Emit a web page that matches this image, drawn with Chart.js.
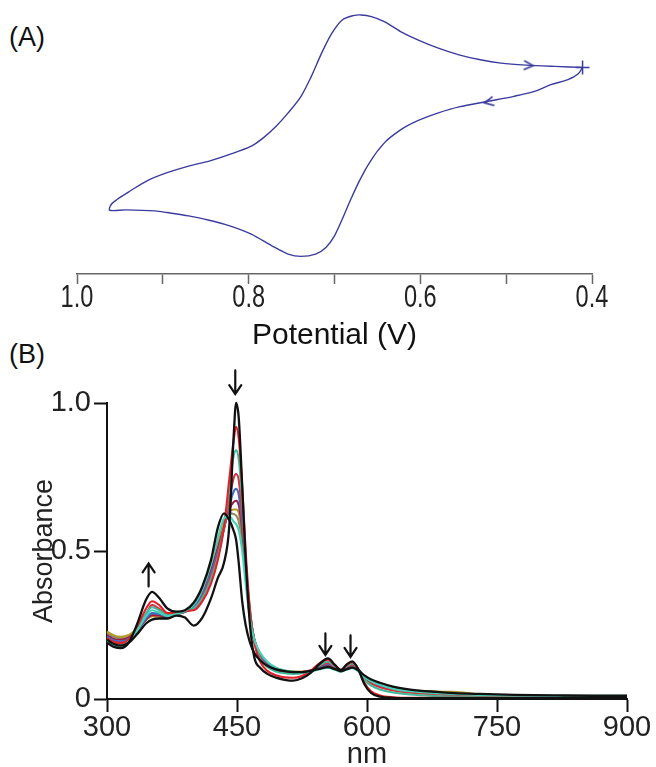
<!DOCTYPE html>
<html lang="en">
<head>
  <meta charset="UTF-8">
  <title>Cyclic voltammogram and spectral titration</title>
  <style>
    body {
      margin: 0;
      background: #fff;
      font-family: "Liberation Sans", Arial, sans-serif;
    }
    .panel-label {
      position: absolute;
      left: 9px;
      font-size: 27px;
      color: #111;
    }
    .chart-box {
      position: absolute;
      left: 0;
      width: 656px;
    }
  </style>
</head>
<body>
  <div class="panel-label" style="top:22px">(A)</div>
  <div class="panel-label" style="top:339px">(B)</div>

  <div class="chart-box" style="top:0; height:352px">
    <canvas id="cvChart" width="656" height="352"></canvas>
  </div>
  <div class="chart-box" style="top:360px; height:407px">
    <canvas id="uvChart" width="656" height="407"></canvas>
  </div>

  <script src="https://cdn.jsdelivr.net/npm/chart.js"></script>
  <script>
    // ---- (A) cyclic voltammogram: potential (V) / current (arb.) ----
    // starts at 0.41 V, cathodic branch out to 0.96 V, anodic branch back
    const cvPotential = [
      0.411, 0.416, 0.428, 0.448, 0.467, 0.491, 0.521, 0.555, 0.579, 0.603,
      0.616, 0.628, 0.640, 0.650, 0.658, 0.665, 0.672, 0.681, 0.691, 0.700,
      0.710, 0.722, 0.739, 0.754, 0.773, 0.797, 0.822, 0.846, 0.870, 0.895,
      0.909, 0.943, 0.962,
      0.960, 0.953, 0.938, 0.919, 0.895, 0.870, 0.846, 0.822, 0.797, 0.783,
      0.768, 0.754, 0.739, 0.727, 0.715, 0.703, 0.691, 0.678, 0.669, 0.657,
      0.642, 0.623, 0.603, 0.579, 0.555, 0.530, 0.506, 0.477, 0.443, 0.411
    ];
    const cvCurrent = [
      1.97, 1.78, 1.60, 1.45, 1.25, 1.10, 0.95, 0.78, 0.60, 0.37,
      0.20, 0.00, -0.25, -0.55, -0.85, -1.15, -1.50, -2.00, -2.60, -3.10,
      -3.45, -3.65, -3.72, -3.65, -3.40, -3.05, -2.80, -2.63, -2.50, -2.40,
      -2.35, -2.32, -2.33,
      -2.15, -2.00, -1.75, -1.45, -1.20, -1.00, -0.85, -0.65, -0.40, -0.15,
      0.20, 0.60, 1.10, 1.70, 2.40, 3.00, 3.40, 3.53, 3.55, 3.50,
      3.35, 3.05, 2.80, 2.55, 2.35, 2.20, 2.10, 2.04, 2.00, 1.97
    ];
    // scan direction marks
    const scanArrowE = [0.474, 0.520];
    const scanArrowI = [2.03, 0.93];
    const scanArrowAngle = [3, 169];
    const cvPotentialTicks = [1.0, 0.8, 0.6, 0.4];

    // ---- (B) absorption spectra during the titration ----
    const wavelength = [
      300, 308, 316, 325, 335, 345, 352, 360, 370, 380,
      390, 400, 410, 420, 428, 435, 441, 446, 449, 452,
      456, 460, 465, 470, 477, 485, 495, 505, 515, 525,
      535, 545, 555, 563, 570, 577, 583, 590, 597, 605,
      615, 630, 650, 680, 700, 730, 770, 820, 860, 900
    ];
    const absInitial = [
      0.2, 0.186, 0.18, 0.19, 0.22, 0.255, 0.268, 0.272, 0.272, 0.282,
      0.275, 0.248, 0.275, 0.34, 0.41, 0.46, 0.58, 0.88, 1.0, 0.95,
      0.72, 0.47, 0.25, 0.14, 0.105, 0.085, 0.072, 0.065, 0.062, 0.07,
      0.088, 0.118, 0.137, 0.115, 0.098, 0.118, 0.127, 0.1, 0.05, 0.02,
      0.008, 0.004, 0.003, 0.003, 0.003, 0.003, 0.003, 0.003, 0.003, 0.003
    ];
    const absRed1 = [
      0.205, 0.192, 0.188, 0.2, 0.245, 0.305, 0.33, 0.318, 0.29, 0.29,
      0.298, 0.3, 0.33, 0.39, 0.47, 0.58, 0.74, 0.87, 0.92, 0.88,
      0.72, 0.5, 0.3, 0.19, 0.125, 0.095, 0.08, 0.073, 0.072, 0.078,
      0.095, 0.12, 0.133, 0.114, 0.097, 0.116, 0.124, 0.1, 0.055, 0.025,
      0.012, 0.006, 0.004, 0.004, 0.004, 0.004, 0.004, 0.004, 0.004, 0.004
    ];
    const absTeal = [
      0.2, 0.188, 0.184, 0.196, 0.235, 0.29, 0.31, 0.3, 0.283, 0.288,
      0.297, 0.305, 0.34, 0.405, 0.48, 0.58, 0.71, 0.82, 0.84, 0.81,
      0.67, 0.47, 0.3, 0.195, 0.135, 0.108, 0.093, 0.087, 0.085, 0.087,
      0.095, 0.114, 0.126, 0.11, 0.096, 0.112, 0.12, 0.1, 0.065, 0.045,
      0.032, 0.022, 0.015, 0.01, 0.008, 0.006, 0.005, 0.005, 0.005, 0.005
    ];
    const absRed2 = [
      0.205, 0.193, 0.19, 0.2, 0.235, 0.285, 0.318, 0.305, 0.285, 0.29,
      0.296, 0.305, 0.345, 0.415, 0.49, 0.575, 0.67, 0.745, 0.76, 0.74,
      0.62, 0.45, 0.295, 0.2, 0.14, 0.113, 0.097, 0.09, 0.088, 0.089,
      0.095, 0.111, 0.122, 0.107, 0.095, 0.109, 0.116, 0.098, 0.07, 0.052,
      0.04, 0.029, 0.021, 0.015, 0.012, 0.009, 0.006, 0.005, 0.005, 0.005
    ];
    const absBlue = [
      0.21, 0.198, 0.195, 0.203, 0.232, 0.272, 0.29, 0.288, 0.279, 0.287,
      0.295, 0.31, 0.352, 0.425, 0.5, 0.575, 0.65, 0.7, 0.71, 0.69,
      0.59, 0.44, 0.29, 0.2, 0.145, 0.117, 0.1, 0.092, 0.09, 0.09,
      0.095, 0.108, 0.118, 0.105, 0.094, 0.107, 0.113, 0.097, 0.073, 0.056,
      0.043, 0.032, 0.024, 0.018, 0.015, 0.011, 0.008, 0.006, 0.006, 0.006
    ];
    const absMaroon = [
      0.215, 0.203, 0.2, 0.207, 0.232, 0.268, 0.283, 0.282, 0.276, 0.286,
      0.295, 0.312, 0.358, 0.435, 0.51, 0.58, 0.64, 0.665, 0.67, 0.655,
      0.57, 0.43, 0.285, 0.2, 0.148, 0.12, 0.102, 0.094, 0.091, 0.091,
      0.096, 0.106, 0.115, 0.103, 0.094, 0.105, 0.111, 0.096, 0.075, 0.058,
      0.046, 0.035, 0.027, 0.021, 0.018, 0.013, 0.01, 0.008, 0.007, 0.007
    ];
    const absOlive = [
      0.228, 0.215, 0.21, 0.216, 0.238, 0.268, 0.28, 0.278, 0.274, 0.285,
      0.296, 0.315, 0.362, 0.44, 0.52, 0.59, 0.63, 0.64, 0.64, 0.63,
      0.55, 0.42, 0.28, 0.2, 0.15, 0.122, 0.104, 0.095, 0.092, 0.092,
      0.096, 0.105, 0.113, 0.102, 0.093, 0.104, 0.109, 0.095, 0.076, 0.06,
      0.048, 0.036, 0.028, 0.025, 0.024, 0.016, 0.01, 0.008, 0.007, 0.007
    ];
    const absTan = [
      0.222, 0.21, 0.205, 0.212, 0.235, 0.27, 0.285, 0.282, 0.276, 0.285,
      0.296, 0.316, 0.365, 0.445, 0.53, 0.6, 0.628, 0.625, 0.62, 0.6,
      0.53, 0.41, 0.275, 0.2, 0.152, 0.124, 0.105, 0.096, 0.093, 0.092,
      0.096, 0.104, 0.111, 0.101, 0.093, 0.103, 0.108, 0.095, 0.077, 0.061,
      0.049, 0.037, 0.029, 0.024, 0.021, 0.015, 0.01, 0.008, 0.007, 0.007
    ];
    const absTurquoise = [
      0.195, 0.183, 0.18, 0.193, 0.232, 0.28, 0.3, 0.292, 0.28, 0.287,
      0.298, 0.318, 0.37, 0.455, 0.545, 0.61, 0.618, 0.6, 0.59, 0.57,
      0.5, 0.39, 0.27, 0.2, 0.155, 0.126, 0.106, 0.096, 0.092, 0.09,
      0.093, 0.1, 0.106, 0.099, 0.092, 0.1, 0.105, 0.093, 0.075, 0.06,
      0.048, 0.035, 0.026, 0.02, 0.017, 0.014, 0.012, 0.011, 0.011, 0.011
    ];
    const absFinal = [
      0.19, 0.176, 0.172, 0.19, 0.255, 0.335, 0.362, 0.342, 0.305, 0.295,
      0.3, 0.325, 0.38, 0.47, 0.58, 0.627, 0.605, 0.57, 0.537, 0.46,
      0.33, 0.25, 0.19, 0.155, 0.13, 0.112, 0.1, 0.094, 0.091, 0.091,
      0.095, 0.102, 0.108, 0.101, 0.094, 0.101, 0.106, 0.097, 0.08, 0.066,
      0.055, 0.042, 0.032, 0.024, 0.02, 0.017, 0.014, 0.012, 0.011, 0.011
    ];
    // arrows marking the direction of change (wavelength, tail, head)
    const changeNm = [348, 448, 552, 581];
    const changeFrom = [0.38, 1.11, 0.222, 0.215];
    const changeTo = [0.458, 1.03, 0.149, 0.142];

    const sansFont = '"Liberation Sans", Arial, sans-serif';

    // open chevron used as point style for the scan direction
    function chevron(color) {
      const c = document.createElement('canvas');
      c.width = 12; c.height = 12;
      const g = c.getContext('2d');
      g.strokeStyle = color;
      g.lineWidth = 1.6;
      g.beginPath();
      g.moveTo(1.5, 1.5); g.lineTo(10.5, 6); g.lineTo(1.5, 10.5);
      g.stroke();
      return c;
    }

    // potential labels are set in a condensed face (squeezed horizontally)
    const narrowTickLabels = {
      id: 'narrowTickLabels',
      afterDraw(chart) {
        const { ctx } = chart;
        const sx = chart.scales.x;
        ctx.save();
        ctx.fillStyle = '#222';
        ctx.font = '31px ' + sansFont;
        ctx.textAlign = 'center';
        ctx.textBaseline = 'middle';
        cvPotentialTicks.forEach((v) => {
          ctx.save();
          ctx.translate(sx.getPixelForValue(v), sx.top + 24);
          ctx.scale(0.76, 1);
          ctx.fillText(v.toFixed(1), 0, 0);
          ctx.restore();
        });
        ctx.restore();
      }
    };

    const cvColor = '#3b3b9e';
    const cvLoop = cvPotential.map((e, i) => ({ x: e, y: cvCurrent[i] }));
    const cvArrows = scanArrowE.map((e, i) => ({ x: e, y: scanArrowI[i] }));

    new Chart(document.getElementById('cvChart'), {
      type: 'scatter',
      data: {
        datasets: [
          {
            data: cvLoop,
            showLine: true,
            borderColor: cvColor,
            borderWidth: 1.4,
            tension: 0.3,
            pointRadius: 0
          },
          {
            data: cvArrows,
            pointStyle: chevron(cvColor),
            rotation: scanArrowAngle,
            pointRadius: 6
          },
          {
            data: [cvLoop[0]],
            pointStyle: 'cross',
            pointRadius: 7,
            borderColor: cvColor,
            borderWidth: 1.5
          }
        ]
      },
      options: {
        responsive: false,
        animation: false,
        layout: { autoPadding: false, padding: { left: 77, right: 64, top: 0, bottom: 0 } },
        plugins: { legend: { display: false }, tooltip: { enabled: false } },
        scales: {
          x: {
            type: 'linear',
            min: 0.4,
            max: 1.0,
            reverse: true,
            afterFit: (s) => { s.height = 78; },
            afterBuildTicks: (s) => {
              s.ticks = [1.0, 0.9, 0.8, 0.7, 0.6, 0.5, 0.4].map(v => ({ value: v }));
            },
            border: { color: '#666', width: 1.5 },
            grid: { drawOnChartArea: false, tickLength: 10, color: '#666', tickWidth: 1.5 },
            ticks: { display: false },
            title: {
              display: true,
              text: 'Potential (V)',
              color: '#111',
              padding: { top: 0, bottom: 1 },
              font: { family: sansFont, size: 30, lineHeight: 1 }
            }
          },
          y: { display: false, min: -4.25, max: 4.0 }
        }
      },
      plugins: [narrowTickLabels]
    });

    // draws the vertical change arrows of panel B
    const changeArrows = {
      id: 'changeArrows',
      afterDatasetsDraw(chart) {
        const { ctx, scales: { x, y } } = chart;
        ctx.save();
        ctx.strokeStyle = '#111';
        ctx.lineWidth = 2.2;
        ctx.lineCap = 'round';
        changeNm.forEach((nm, i) => {
          const px = x.getPixelForValue(nm);
          const y1 = y.getPixelForValue(changeFrom[i]);
          const y2 = y.getPixelForValue(changeTo[i]);
          const dir = y2 > y1 ? 1 : -1;
          ctx.beginPath();
          ctx.moveTo(px, y1);
          ctx.lineTo(px, y2);
          ctx.moveTo(px - 6, y2 - dir * 9);
          ctx.lineTo(px, y2);
          ctx.lineTo(px + 6, y2 - dir * 9);
          ctx.stroke();
        });
        ctx.restore();
      }
    };

    const toPoints = (arr) => arr.map((a, i) => ({ x: wavelength[i], y: a }));
    const spectrum = (arr, color, width) => ({
      data: toPoints(arr),
      borderColor: color,
      borderWidth: width,
      pointRadius: 0,
      cubicInterpolationMode: 'monotone',
      clip: false
    });

    new Chart(document.getElementById('uvChart'), {
      type: 'line',
      data: {
        datasets: [
          spectrum(absFinal, '#111111', 2.3),
          spectrum(absInitial, '#111111', 2.3),
          spectrum(absTurquoise, '#45d3b8', 2.1),
          spectrum(absRed1, '#e6202a', 2.1),
          spectrum(absTeal, '#3fb99a', 2.1),
          spectrum(absRed2, '#d9303f', 2.1),
          spectrum(absBlue, '#3a6fc8', 2.1),
          spectrum(absMaroon, '#9d1c3e', 2.1),
          spectrum(absOlive, '#b39b2a', 2.1),
          spectrum(absTan, '#8e8a70', 2.1)
        ]
      },
      options: {
        responsive: false,
        animation: false,
        layout: { autoPadding: false, padding: { left: 0, right: 29, top: 43, bottom: 0 } },
        plugins: { legend: { display: false }, tooltip: { enabled: false } },
        scales: {
          x: {
            type: 'linear',
            min: 300,
            max: 900,
            afterFit: (s) => { s.height = 68; },
            border: { color: '#111', width: 2 },
            grid: { drawOnChartArea: false, tickLength: 13, color: '#111', tickWidth: 2 },
            ticks: {
              stepSize: 150,
              padding: 1,
              color: '#222',
              font: { family: sansFont, size: 29, lineHeight: 1 }
            },
            title: {
              display: true,
              text: 'nm',
              color: '#222',
              padding: { top: 0, bottom: 0 },
              font: { family: sansFont, size: 29, lineHeight: 0.8 }
            }
          },
          y: {
            min: 0,
            max: 1,
            afterFit: (s) => { s.width = 107; },
            border: { color: '#111', width: 2 },
            grid: { drawOnChartArea: false, tickLength: 13, color: '#111', tickWidth: 2 },
            ticks: {
              stepSize: 0.5,
              padding: 3,
              color: '#222',
              font: { family: sansFont, size: 29, lineHeight: 1 },
              callback: (v) => (v === 0 ? '0' : v.toFixed(1))
            },
            title: {
              display: true,
              text: 'Absorbance',
              color: '#222',
              padding: { top: 31, bottom: 0 },
              font: { family: sansFont, size: 27, lineHeight: 1 }
            }
          }
        }
      },
      plugins: [changeArrows]
    });
  </script>
</body>
</html>
